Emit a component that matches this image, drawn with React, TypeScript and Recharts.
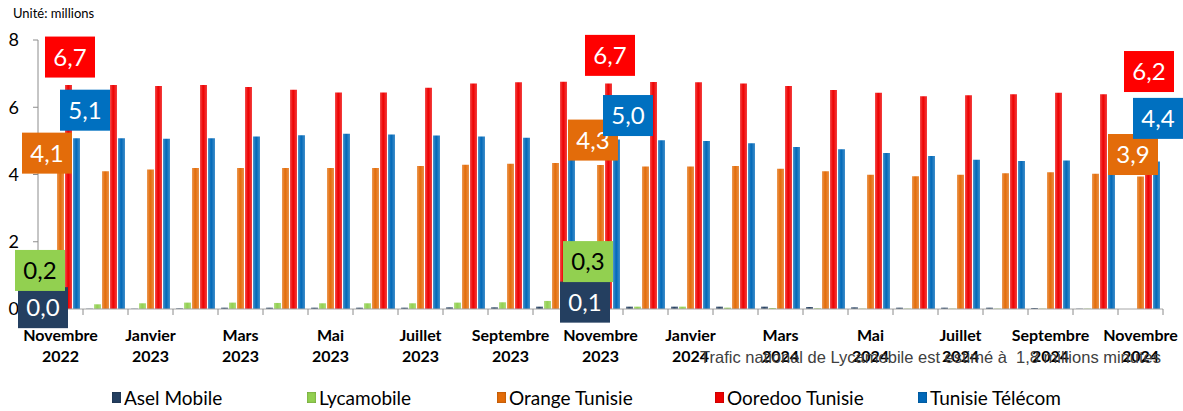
import React from 'react';
import { BarChart, Bar, XAxis, YAxis, LabelList } from 'recharts';

const months = [
  'Novembre 2022', 'Décembre 2022', 'Janvier 2023', 'Février 2023', 'Mars 2023', 'Avril 2023',
  'Mai 2023', 'Juin 2023', 'Juillet 2023', 'Août 2023', 'Septembre 2023', 'Octobre 2023',
  'Novembre 2023', 'Décembre 2023', 'Janvier 2024', 'Février 2024', 'Mars 2024', 'Avril 2024',
  'Mai 2024', 'Juin 2024', 'Juillet 2024', 'Août 2024', 'Septembre 2024', 'Octobre 2024',
  'Novembre 2024',
];

const aselMobile = [
  0.01, 0.01, 0.01, 0.02, 0.04, 0.04, 0.04, 0.04, 0.04, 0.05, 0.05, 0.07,
  0.07, 0.07, 0.07, 0.07, 0.07, 0.06, 0.05, 0.04, 0.04, 0.04, 0.03, 0.01, null,
];
const lycamobile = [
  0.18, 0.14, 0.17, 0.19, 0.19, 0.18, 0.17, 0.17, 0.17, 0.19, 0.2, 0.24,
  0.28, 0.07, 0.07, 0.04, 0.03, 0.02, 0.01, 0.01, 0.01, 0.01, 0.01, 0.01, 0.0,
];
const orangeTunisie = [
  4.1, 4.1, 4.15, 4.19, 4.19, 4.19, 4.19, 4.19, 4.25, 4.29, 4.32, 4.34,
  4.28, 4.24, 4.24, 4.25, 4.17, 4.1, 3.99, 3.95, 3.99, 4.04, 4.07, 4.02, 3.94,
];
const ooredooTunisie = [
  6.66, 6.66, 6.63, 6.66, 6.6, 6.52, 6.44, 6.44, 6.58, 6.71, 6.74, 6.76,
  6.71, 6.75, 6.74, 6.71, 6.63, 6.51, 6.43, 6.33, 6.36, 6.39, 6.43, 6.39, 6.2,
];
const tunisieTelecom = [
  5.08, 5.08, 5.06, 5.08, 5.13, 5.17, 5.21, 5.19, 5.16, 5.13, 5.09, 5.07,
  5.04, 5.02, 5.0, 4.93, 4.82, 4.75, 4.64, 4.55, 4.44, 4.4, 4.42, 4.4, 4.39,
];

const yTicks = [0, 2, 4, 6, 8];

const data = months.map((m, i) => ({
  month: m,
  asel: aselMobile[i],
  lyca: lycamobile[i],
  orange: orangeTunisie[i],
  ooredoo: ooredooTunisie[i],
  tt: tunisieTelecom[i],
}));

const series = [
  { key: 'asel', name: 'Asel Mobile', color: '#243F60', box: '#243F60', text: '#ffffff' },
  { key: 'lyca', name: 'Lycamobile', color: '#92D050', box: '#92D050', text: '#000000' },
  { key: 'orange', name: 'Orange Tunisie', color: '#E36C09', box: '#E36C0A', text: '#ffffff' },
  { key: 'ooredoo', name: 'Ooredoo Tunisie', color: '#EE0000', box: '#FF0000', text: '#ffffff' },
  { key: 'tt', name: 'Tunisie Télécom', color: '#0068B8', box: '#0070C0', text: '#ffffff' },
];

// where the value boxes sit, relative to the top centre of their bar
const labelSpots: Record<string, Record<number, [number, number]>> = {
  asel: { 0: [-1.5, -1], 12: [0.5, -4.5] },
  lyca: { 0: [-12.5, -32.5], 12: [-4.5, -38], 24: [17.5, -41.5] },
  orange: { 0: [-13.5, -18], 12: [-7.5, -25], 24: [-7.5, -22] },
  ooredoo: { 0: [1.5, -28], 12: [1.5, -28], 24: [0.5, -29] },
  tt: { 0: [8.5, -28], 12: [11.5, -24], 24: [1.5, -43] },
};

const legendX = [112, 307, 497, 715, 918];

const W = 1183;
const H = 411;
const margin = { top: 40, right: 20, bottom: 42, left: 8 };
const yAxisW = 30;
const halfBand = (W - margin.left - margin.right - yAxisW) / months.length / 2;

const fmt = (v: number) => v.toFixed(1).replace('.', ',');
const font = 'Lato, "Open Sans", sans-serif';

const MonthTick = (props: any) => {
  const { x, y, payload, index } = props;
  const [name, year] = String(payload.value).split(' ');
  const last = index === months.length - 1;
  return (
    <g>
      <line x1={x - halfBand} x2={x - halfBand} y1={y} y2={y + 6} stroke="#8c8c8c" />
      {last && <line x1={x + halfBand} x2={x + halfBand} y1={y} y2={y + 6} stroke="#8c8c8c" />}
      {index % 2 === 0 && (
        <text textAnchor="middle" fontFamily={font} fontWeight={700} fontSize={16} fill="#000">
          <tspan x={x} y={y + 32}>{name}</tspan>
          <tspan x={x} y={y + 53}>{year}</tspan>
        </text>
      )}
    </g>
  );
};

const makeLabel = (s: typeof series[number]) => (props: any) => {
  const { x, y, width, index, value } = props;
  const spot = labelSpots[s.key][index];
  if (!spot || value == null) return null;
  const cx = Number(x) + Number(width) / 2 + spot[0];
  const cy = Number(y) + spot[1];
  return (
    <g>
      <rect x={cx - 25} y={cy - 20.5} width={50} height={41} fill={s.box} />
      <text x={cx} y={cy} dy="0.36em" textAnchor="middle" fontFamily={font} fontSize={24} fill={s.text}>
        {fmt(Number(value))}
      </text>
    </g>
  );
};

export default function App() {
  return (
    <div style={{ position: 'absolute', left: 0, top: 0, width: W, height: H, background: '#fff', fontFamily: font }}>
      <div style={{ position: 'absolute', left: 13, top: 5, fontSize: 13, color: '#000' }}>Unité: millions</div>
      <BarChart width={W} height={H} data={data} margin={margin} barGap={1} barCategoryGap={3}>
        <defs>
          {series.map((s) => (
            <linearGradient key={s.key} id={`g-${s.key}`} x1="0" y1="0" x2="1" y2="0">
              <stop offset="0%" stopColor={s.color} stopOpacity={0.7} />
              <stop offset="45%" stopColor={s.color} />
              <stop offset="100%" stopColor={s.color} stopOpacity={0.75} />
            </linearGradient>
          ))}
        </defs>
        <XAxis
          dataKey="month"
          interval={0}
          height={60}
          tickSize={0}
          tickMargin={0}
          tickLine={false}
          axisLine={{ stroke: '#a6a6a6' }}
          tick={<MonthTick />}
        />
        <YAxis
          width={yAxisW}
          domain={[0, 8]}
          ticks={yTicks}
          tickSize={5}
          tickMargin={14}
          axisLine={{ stroke: '#8c8c8c' }}
          tickLine={{ stroke: '#8c8c8c' }}
          tick={{ fontSize: 18, fill: '#000', fontFamily: font }}
        />
        {series.map((s) => (
          <Bar key={s.key} dataKey={s.key} name={s.name} fill={`url(#g-${s.key})`} isAnimationActive={false}>
            <LabelList dataKey={s.key} content={makeLabel(s)} />
          </Bar>
        ))}
      </BarChart>
      <div
        style={{
          position: 'absolute',
          left: 700,
          top: 348,
          fontFamily: '"Liberation Sans", Arial, sans-serif',
          fontSize: 16.5,
          color: '#404040',
          whiteSpace: 'pre',
        }}
      >
        {'Trafic national de Lycamobile est estimé à  1,8 millions minutes'}
      </div>
      {series.map((s, i) => (
        <div
          key={s.key}
          style={{ position: 'absolute', left: legendX[i], top: 386, display: 'flex', alignItems: 'center', fontSize: 19, color: '#000', whiteSpace: 'nowrap' }}
        >
          <span style={{ display: 'inline-block', width: 9, height: 11, background: s.color, marginRight: 3, boxShadow: 'inset 0 0 2px rgba(0,0,0,0.4)' }} />
          {s.name}
        </div>
      ))}
    </div>
  );
}
